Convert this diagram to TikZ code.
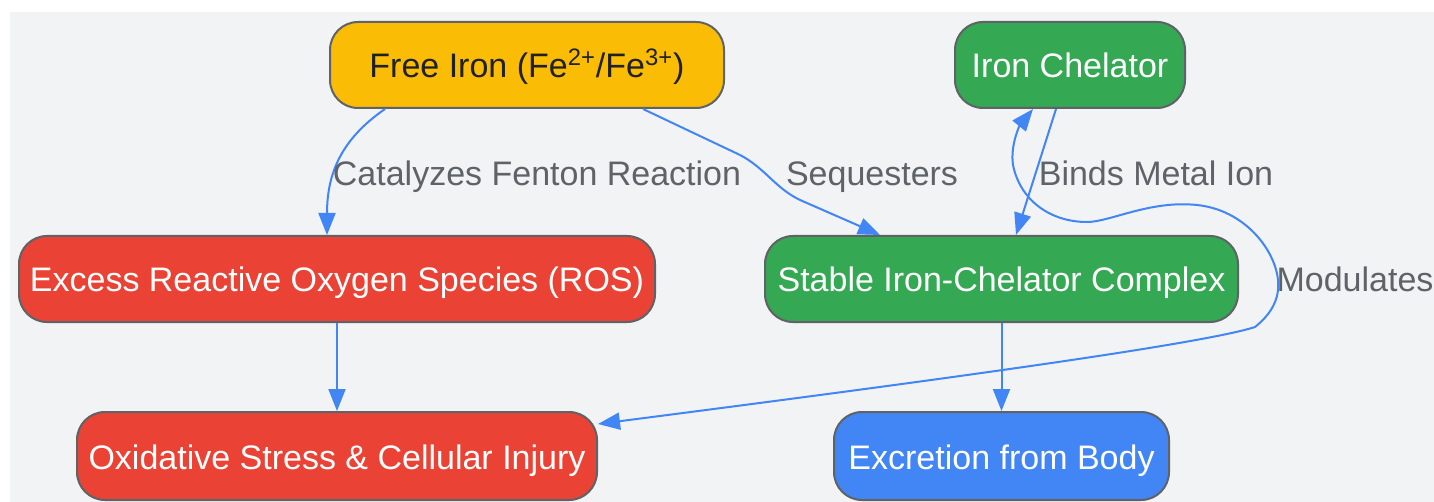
\documentclass[tikz,border=0pt]{standalone}
\usepackage{fontspec}
\setmainfont{Liberation Sans}
\usetikzlibrary{arrows.meta}

\definecolor{bgGray}{HTML}{F1F3F5}
\definecolor{boxBorder}{HTML}{5F6368}
\definecolor{ironYellow}{HTML}{FBBC05}
\definecolor{chelGreen}{HTML}{34A853}
\definecolor{rosRed}{HTML}{EA4335}
\definecolor{exBlue}{HTML}{4285F4}
\definecolor{linkBlue}{HTML}{4285F4}
\definecolor{labelGray}{HTML}{5F6368}
\definecolor{darkText}{HTML}{202124}

\tikzset{
  >={Triangle[length=11pt,width=8.5pt]},
  box/.style={draw=boxBorder, line width=1pt, rounded corners=14pt,
    minimum height=43pt, text height=13pt, text depth=0pt,
    text=white, font=\fontsize{17}{20}\selectfont},
  link/.style={draw=linkBlue, line width=1pt, ->},
  lbl/.style={anchor=base, text=labelGray, font=\fontsize{17}{20}\selectfont},
}

\begin{document}
\begin{tikzpicture}[x=0.5pt,y=-0.5pt]
\useasboundingbox (0,0) rectangle (1434,502);
\fill[bgGray] (10,12) rectangle (1434,502);

% nodes
\node[box, fill=ironYellow, text=darkText, minimum width=197pt] (fe) at (527,65) {Free Iron (Fe\textsuperscript{2+}/Fe\textsuperscript{3+})};
\node[box, fill=chelGreen, minimum width=115pt] (ch) at (1070,65) {Iron Chelator};
\node[box, fill=rosRed, minimum width=318pt] (ros) at (337,279) {Excess Reactive Oxygen Species (ROS)};
\node[box, fill=chelGreen, minimum width=236.5pt] (cx) at (1001.5,279) {Stable Iron-Chelator Complex};
\node[box, fill=rosRed, minimum width=260pt, minimum height=44pt] (ox) at (337,456) {Oxidative Stress \& Cellular Injury};
\node[box, fill=exBlue, minimum width=167.5pt, minimum height=44pt] (ex) at (1001.5,456) {Excretion from Body};

% connectors
\draw[link] ([xshift=-71pt]fe.south) .. controls (340,140) and (327,175) .. ([xshift=-5pt]ros.north);
\draw[link] ([xshift=58pt]fe.south) -- (740,155) .. controls (765,168) and (775,188) .. (800,200) -- ([xshift=-60.75pt]cx.north);
\draw[link] ([xshift=-7pt]ch.south) -- ([xshift=7.25pt]cx.north);
\draw[link] (ros) -- (ox);
\draw[link] (cx) -- (ex);
\draw[link, <->] ([xshift=-18.5pt]ch.south) .. controls (1020,125) and (1010,145) .. (1013,165)
  .. controls (1020,200) and (1050,222) .. (1087,222)
  .. controls (1110,222) and (1150,200) .. (1197,205)
  .. controls (1245,210) and (1275,250) .. (1278,280)
  .. controls (1280,300) and (1270,315) .. (1255,327)
  .. controls (1200,345) and (900,385) .. ([yshift=16pt]ox.east);

% labels
\node[lbl] (lcat) at (537,186) {Catalyzes Fenton Reaction};
\node[lbl] (lseq) at (872,186) {Sequesters};
\node[lbl] (lbind) at (1156,186) {Binds Metal Ion};
\node[lbl] (lmod) at (1355,292) {Modulates};

\end{tikzpicture}
\end{document}
